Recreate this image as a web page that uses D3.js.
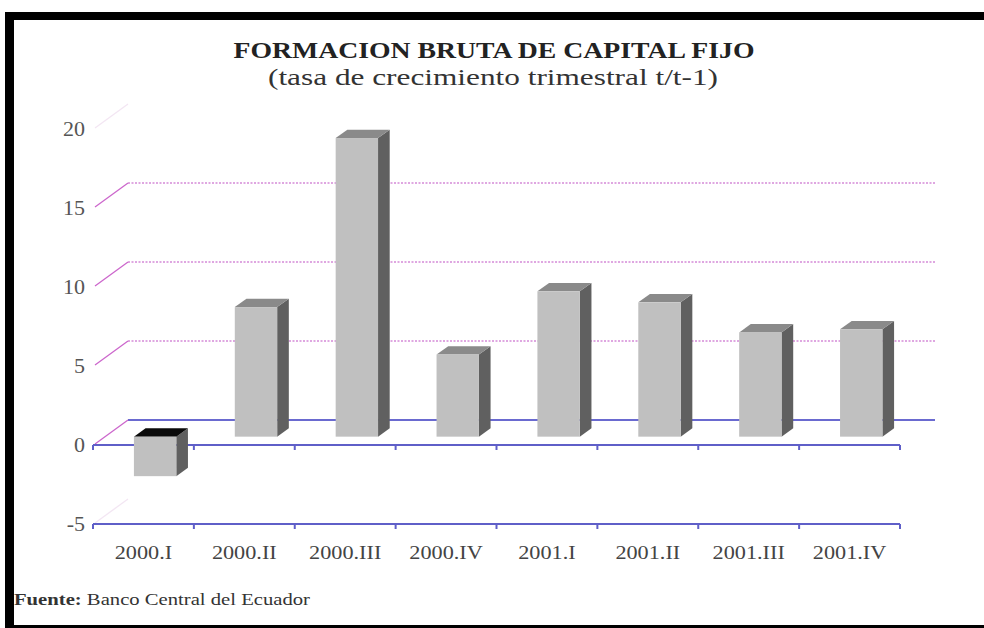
<!DOCTYPE html>
<html>
<head>
<meta charset="utf-8">
<script src="https://cdn.jsdelivr.net/npm/d3@7"></script>
<style>
  body { margin: 0; background: #fff; }
  svg { display: block; }
  .serif { font-family: "Liberation Serif", "DejaVu Serif", serif; }
</style>
</head>
<body>
<svg id="chart" width="984" height="628"></svg>
<script>
// data
const categories = ["2000.I", "2000.II", "2000.III", "2000.IV", "2001.I", "2001.II", "2001.III", "2001.IV"];
const values = [-2.5, 8.2, 18.9, 5.2, 9.2, 8.5, 6.6, 6.8];
const yTicks = [-5, 0, 5, 10, 15, 20];
const gridTicks = [5, 10, 15];

const title = "FORMACION BRUTA DE CAPITAL FIJO";
const subtitle = "(tasa de crecimiento trimestral t/t-1)";

// setup
const W = 984, H = 628;
const DX = 35, DY = -25;   // depth of the 3d floor/back wall
const svg = d3.select("#chart");

svg.append("rect").attr("width", W).attr("height", H).attr("fill", "#fff");

// frame: thick black on left, top and bottom
svg.append("rect").attr("x", 5).attr("y", 12).attr("width", 9).attr("height", H - 12).attr("fill", "#000");
svg.append("rect").attr("x", 5).attr("y", 12).attr("width", W - 5).attr("height", 8).attr("fill", "#000");
svg.append("rect").attr("x", 5).attr("y", 625).attr("width", W - 5).attr("height", 3).attr("fill", "#000");

// scales
const x = d3.scaleBand().domain(categories).range([93, 900]).padding(0);
const y = d3.scaleLinear().domain([-5, 20]).range([524, 129]);
const x0 = x.range()[0], x1 = x.range()[1];

// the source font is wider than Times, stretch text a bit
function widen(sel, k) {
  sel.each(function () {
    const len = this.getComputedTextLength();
    d3.select(this).attr("textLength", len * k).attr("lengthAdjust", "spacingAndGlyphs");
  });
}

// 1: back wall gridlines
svg.selectAll(".grid")
  .data(gridTicks)
  .enter().append("line")
  .attr("x1", x0 + DX).attr("x2", x1 + DX)
  .attr("y1", d => y(d) + DY).attr("y2", d => y(d) + DY)
  .attr("stroke", "#d58ad8")
  .attr("stroke-width", 1.6)
  .attr("stroke-dasharray", "2,1.5");

// back zero line
svg.append("line")
  .attr("x1", x0 + DX).attr("x2", x1 + DX)
  .attr("y1", y(0) + DY).attr("y2", y(0) + DY)
  .attr("stroke", "#6a6ad0").attr("stroke-width", 2);

// 2: diagonals on the side wall
svg.selectAll(".diag")
  .data(yTicks)
  .enter().append("line")
  .attr("x1", x0 + 2).attr("y1", d => y(d) - 1)
  .attr("x2", x0 + DX).attr("y2", d => y(d) + DY)
  .attr("stroke", d => (d === 20 || d === -5) ? "#f3e6f3" : "#cc66cc")
  .attr("stroke-width", 1.3);

// 3: front axis lines at 0 and -5, ticks at band edges
const edges = categories.map(c => x(c)).concat([x1]);
[0, -5].forEach(v => {
  const g = svg.append("g");
  g.append("line")
    .attr("x1", x0).attr("x2", x1)
    .attr("y1", y(v)).attr("y2", y(v))
    .attr("stroke", "#5f5fc8").attr("stroke-width", 2.2);
  g.selectAll("line.tick")
    .data(edges)
    .enter().append("line")
    .attr("class", "tick")
    .attr("x1", d => d).attr("x2", d => d)
    .attr("y1", y(v)).attr("y2", y(v) + 5)
    .attr("stroke", "#5f5fc8").attr("stroke-width", 2);
});

// 4: bars (placed in the middle third of the depth)
const bw = x.bandwidth() * 0.42;
const ox = DX / 3, oy = DY / 3;
const bars = svg.selectAll(".bar")
  .data(categories.map((c, i) => ({ cat: c, val: values[i] })))
  .enter().append("g");

bars.each(function (d) {
  const g = d3.select(this);
  const left = x(d.cat) + x.bandwidth() / 2 - bw / 2 + ox;
  const right = left + bw;
  const top = y(Math.max(d.val, 0)) + oy;
  const bot = y(Math.min(d.val, 0)) + oy;

  // side face
  g.append("polygon")
    .attr("points", [[right, top], [right + ox, top + oy], [right + ox, bot + oy], [right, bot]].join(" "))
    .attr("fill", "#606060");
  // top face
  g.append("polygon")
    .attr("points", [[left, top], [left + ox, top + oy], [right + ox, top + oy], [right, top]].join(" "))
    .attr("fill", d.val < 0 ? "#0a0a0a" : "#8a8a8a");
  // front face
  g.append("rect")
    .attr("x", left).attr("y", top)
    .attr("width", bw).attr("height", bot - top)
    .attr("fill", "#c0c0c0");
});

// 5: y tick labels
svg.selectAll(".ylab")
  .data(yTicks)
  .enter().append("text")
  .attr("class", "serif")
  .attr("x", 85)
  .attr("y", d => y(d) + 7)
  .attr("text-anchor", "end")
  .attr("font-size", 20)
  .attr("fill", "#555")
  .text(d => d)
  .call(widen, 1.1);

// category labels
svg.selectAll(".xlab")
  .data(categories)
  .enter().append("text")
  .attr("class", "serif")
  .attr("x", d => x(d) + x.bandwidth() / 2)
  .attr("y", 559)
  .attr("text-anchor", "middle")
  .attr("font-size", 19)
  .attr("fill", "#444")
  .text(d => d)
  .call(widen, 1.17);

// 6: titles
svg.append("text")
  .attr("class", "serif")
  .attr("x", 494).attr("y", 58)
  .attr("text-anchor", "middle")
  .attr("font-size", 24)
  .attr("font-weight", "bold")
  .attr("fill", "#222")
  .attr("textLength", 521)
  .attr("lengthAdjust", "spacingAndGlyphs")
  .text(title);

svg.append("text")
  .attr("class", "serif")
  .attr("x", 493).attr("y", 85)
  .attr("text-anchor", "middle")
  .attr("font-size", 24)
  .attr("fill", "#333")
  .attr("textLength", 450)
  .attr("lengthAdjust", "spacingAndGlyphs")
  .text(subtitle);

// footer
const src = svg.append("text")
  .attr("class", "serif")
  .attr("x", 14).attr("y", 605)
  .attr("font-size", 17)
  .attr("fill", "#333")
  .attr("textLength", 296)
  .attr("lengthAdjust", "spacingAndGlyphs");
src.append("tspan").attr("font-weight", "bold").text("Fuente:");
src.append("tspan").text(" Banco Central del Ecuador");
</script>
</body>
</html>
